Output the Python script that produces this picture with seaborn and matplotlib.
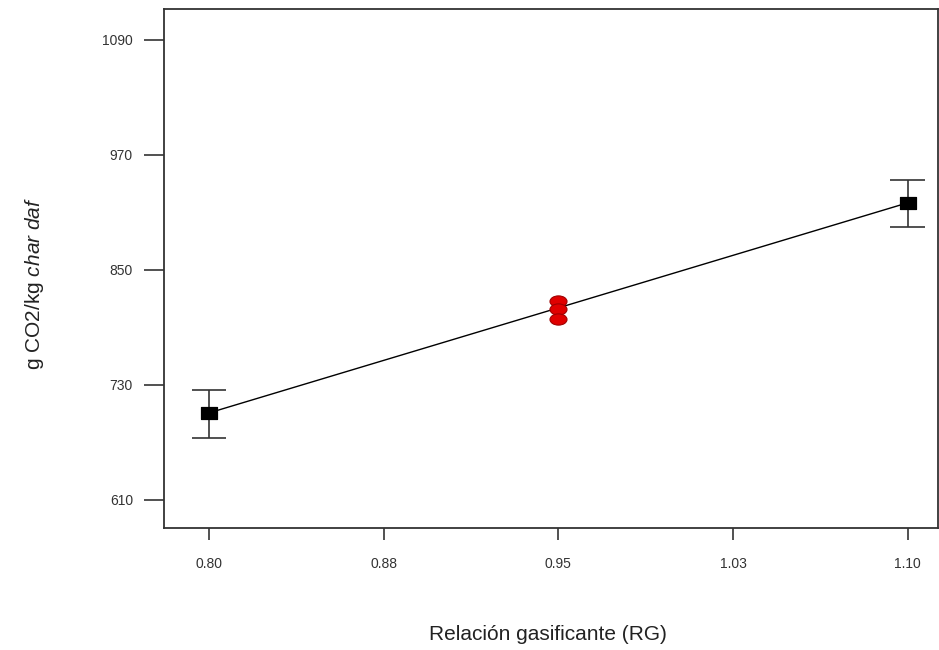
import matplotlib
matplotlib.use("Agg")
import matplotlib.pyplot as plt
import seaborn as sns
import pandas as pd
import numpy as np
from matplotlib.markers import MarkerStyle
from matplotlib.transforms import Affine2D

# Data
rg_ends = [0.80, 1.10]
co2_ends = [700.8, 919.9]
err_low = [674.7, 894.9]
err_high = [724.8, 943.9]
rg_center = [0.95, 0.95, 0.95]
co2_center = [817.7, 809.3, 798.9]
x_ticks = [0.80, 0.875, 0.95, 1.025, 1.10]
x_tick_labels = ["0.80", "0.88", "0.95", "1.03", "1.10"]
y_ticks = [610, 730, 850, 970, 1090]

sns.set_theme(style="white")
plt.rcParams['font.family'] = ['Liberation Sans', 'DejaVu Sans']
plt.rcParams['mathtext.fontset'] = 'custom'
plt.rcParams['mathtext.rm'] = 'Liberation Sans'
plt.rcParams['mathtext.it'] = 'Liberation Sans:italic'

fig = plt.figure(figsize=(9.39, 6.5), dpi=100)
ax = fig.add_axes([164/939, 1-528/650, (938-164)/939, (528-9)/650])

df_line = pd.DataFrame({"RG": rg_ends, "CO2": co2_ends})
sns.lineplot(data=df_line, x="RG", y="CO2", ax=ax, color="black", linewidth=1.0, zorder=2)

# error bars
for x, lo, hi in zip(rg_ends, err_low, err_high):
    ax.vlines(x, lo, hi, color="#333333", linewidth=1.2, zorder=3)
    ax.hlines([lo, hi], x - 0.0074, x + 0.0074, color="#333333", linewidth=1.2, zorder=3)

def squash(coll, marker, sy):
    ms = MarkerStyle(marker)
    path = ms.get_path().transformed(ms.get_transform() + Affine2D().scale(1.0, sy))
    coll.set_paths([path])

sns.scatterplot(data=df_line, x="RG", y="CO2", ax=ax, marker="s", s=120, color="black",
                edgecolor="black", zorder=4)
squash(ax.collections[-1], "s", 0.75)

df_c = pd.DataFrame({"RG": rg_center, "CO2": co2_center})
sns.scatterplot(data=df_c, x="RG", y="CO2", ax=ax, marker="o", s=150, color="#e00000",
                edgecolor="#a00000", linewidth=0.8, zorder=5)
squash(ax.collections[-1], "o", 0.66)

ax.set_xlim(0.7807, 1.113)
ax.set_ylim(580.8, 1122.0)
ax.set_xticks(x_ticks)
ax.set_xticklabels(x_tick_labels)
ax.set_yticks(y_ticks)
ax.set_yticklabels([str(v) for v in y_ticks])

ax.tick_params(axis="x", direction="out", length=8.6, width=1.2, color="#333333",
               labelsize=10, pad=12, labelcolor="#333333", bottom=True)
ax.tick_params(axis="y", direction="out", length=14.4, width=1.2, color="#333333",
               labelsize=10, pad=8, labelcolor="#333333", left=True)

for s in ax.spines.values():
    s.set_color("#333333")
    s.set_linewidth(1.3)

ax.set_xlabel("Relación gasificante (RG)", fontsize=15, color="#222222")
ax.set_ylabel(r"g CO2/kg $\mathit{char\ daf}$", fontsize=15, color="#222222")
W, H = 938 - 164, 528 - 9
ax.xaxis.set_label_coords((548-164)/W, -(625-528)/H)
ax.yaxis.set_label_coords(-(164-46)/W, (528-283)/H)

fig.savefig("out.png", dpi=100)
